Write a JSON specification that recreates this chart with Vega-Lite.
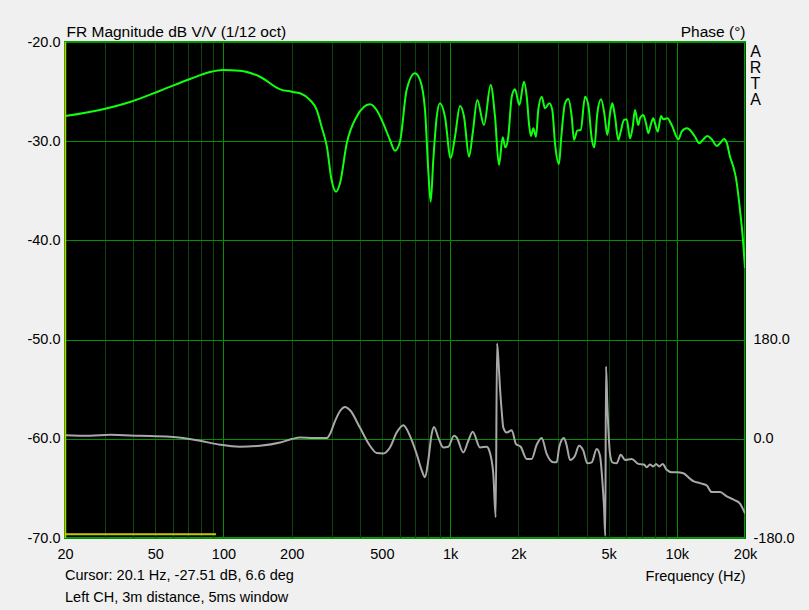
{
  "$schema": "https://vega.github.io/schema/vega-lite/v6.json",
  "width": 680,
  "height": 496,
  "autosize": {"type": "none"},
  "padding": {"left": 65, "top": 42, "right": 64, "bottom": 72},
  "background": "#f0f0f0",
  "config": {
    "font": "Liberation Sans",
    "view": {"fill": "#000000", "stroke": "#00a000", "strokeWidth": 2},
    "axis": {
      "labelFont": "Liberation Sans",
      "titleFont": "Liberation Sans",
      "labelFontSize": 14,
      "titleFontSize": 14,
      "titleFontWeight": "normal",
      "labelColor": "#000000",
      "titleColor": "#000000",
      "domain": false,
      "ticks": false,
      "tickSize": 0,
      "labelFlush": false,
      "labelBound": false,
      "labelOverlap": false
    }
  },
  "datasets": {
    "mag": [
      {"f": 20, "db": -27.46}, {"f": 28.5, "db": -26.85}, {"f": 38.7, "db": -26.05}, {"f": 52.5, "db": -24.91},
      {"f": 71.2, "db": -23.73}, {"f": 87.3, "db": -23.02}, {"f": 99.6, "db": -22.82}, {"f": 118, "db": -22.89},
      {"f": 145, "db": -23.5}, {"f": 178, "db": -24.77}, {"f": 200, "db": -25.01}, {"f": 218, "db": -25.17},
      {"f": 241, "db": -25.85}, {"f": 258, "db": -26.85}, {"f": 271, "db": -28.54}, {"f": 286, "db": -30.55},
      {"f": 300, "db": -33.91}, {"f": 314, "db": -35.09}, {"f": 327, "db": -34.21}, {"f": 350, "db": -30.21},
      {"f": 387, "db": -27.53}, {"f": 443, "db": -26.28}, {"f": 474, "db": -26.85}, {"f": 507, "db": -28.2},
      {"f": 543, "db": -29.88}, {"f": 571, "db": -30.96}, {"f": 601, "db": -30.05}, {"f": 643, "db": -24.84},
      {"f": 700, "db": -23.16}, {"f": 737, "db": -23.83}, {"f": 775, "db": -26.85}, {"f": 801, "db": -32.9},
      {"f": 821, "db": -36.1}, {"f": 843, "db": -31.9}, {"f": 873, "db": -27.53}, {"f": 902, "db": -26.18},
      {"f": 949, "db": -27.53}, {"f": 1006, "db": -31.72}, {"f": 1051, "db": -29.55}, {"f": 1106, "db": -26.45},
      {"f": 1152, "db": -27.53}, {"f": 1212, "db": -31.56}, {"f": 1258, "db": -29.2}, {"f": 1318, "db": -25.85},
      {"f": 1411, "db": -28.37}, {"f": 1510, "db": -24.33}, {"f": 1578, "db": -27.53}, {"f": 1643, "db": -32.4},
      {"f": 1706, "db": -29.61}, {"f": 1752, "db": -30.62}, {"f": 1806, "db": -29.55}, {"f": 1870, "db": -25.51},
      {"f": 1933, "db": -24.77}, {"f": 2020, "db": -26.35}, {"f": 2118, "db": -24.0}, {"f": 2178, "db": -25.51},
      {"f": 2236, "db": -28.54}, {"f": 2275, "db": -29.48}, {"f": 2328, "db": -28.7}, {"f": 2393, "db": -29.55},
      {"f": 2449, "db": -26.85}, {"f": 2536, "db": -25.51}, {"f": 2622, "db": -26.68}, {"f": 2739, "db": -26.18},
      {"f": 2824, "db": -26.85}, {"f": 2903, "db": -30.21}, {"f": 3024, "db": -32.3}, {"f": 3086, "db": -29.88},
      {"f": 3214, "db": -26.18}, {"f": 3323, "db": -25.75}, {"f": 3440, "db": -27.53}, {"f": 3520, "db": -29.88},
      {"f": 3640, "db": -28.94}, {"f": 3769, "db": -28.87}, {"f": 3938, "db": -25.51}, {"f": 4071, "db": -26.35},
      {"f": 4214, "db": -29.71}, {"f": 4327, "db": -30.62}, {"f": 4462, "db": -27.19}, {"f": 4633, "db": -25.78},
      {"f": 4790, "db": -27.19}, {"f": 4939, "db": -29.38}, {"f": 5076, "db": -27.19}, {"f": 5196, "db": -26.18},
      {"f": 5340, "db": -27.53}, {"f": 5522, "db": -29.88}, {"f": 5658, "db": -29.04}, {"f": 5850, "db": -27.86},
      {"f": 6012, "db": -27.79}, {"f": 6218, "db": -29.71}, {"f": 6391, "db": -28.54}, {"f": 6542, "db": -26.85},
      {"f": 6764, "db": -28.37}, {"f": 6882, "db": -27.69}, {"f": 7118, "db": -27.36}, {"f": 7316, "db": -28.2},
      {"f": 7490, "db": -29.2}, {"f": 7674, "db": -28.37}, {"f": 7878, "db": -27.69}, {"f": 8016, "db": -28.2},
      {"f": 8239, "db": -29.04}, {"f": 8520, "db": -27.46}, {"f": 8722, "db": -27.79}, {"f": 9084, "db": -27.69},
      {"f": 9498, "db": -28.37}, {"f": 10157, "db": -29.81}, {"f": 10513, "db": -29.04}, {"f": 11062, "db": -28.7},
      {"f": 11358, "db": -28.8}, {"f": 12036, "db": -29.55}, {"f": 12574, "db": -30.21}, {"f": 13016, "db": -29.88},
      {"f": 13638, "db": -29.48}, {"f": 14262, "db": -29.81}, {"f": 15004, "db": -30.48}, {"f": 15516, "db": -30.21},
      {"f": 16158, "db": -29.78}, {"f": 16610, "db": -30.15}, {"f": 17176, "db": -31.56}, {"f": 17762, "db": -32.57},
      {"f": 18256, "db": -33.74}, {"f": 19010, "db": -36.94}, {"f": 19594, "db": -39.96}, {"f": 20000, "db": -42.78}
    ],
    "phase": [
      {"f": 20, "deg": 6.6}, {"f": 25.8, "deg": 5.4}, {"f": 31.6, "deg": 7.2}, {"f": 42.8, "deg": 5.4},
      {"f": 58.1, "deg": 3.6}, {"f": 78.8, "deg": -3.6}, {"f": 96.6, "deg": -10.8}, {"f": 118, "deg": -14.4},
      {"f": 145, "deg": -12.6}, {"f": 178, "deg": -6.7}, {"f": 200, "deg": -0.5}, {"f": 218, "deg": 2.3},
      {"f": 249, "deg": 1.3}, {"f": 286, "deg": 1.3}, {"f": 295, "deg": 8.5}, {"f": 311, "deg": 32.4},
      {"f": 327, "deg": 50.4}, {"f": 344, "deg": 57.6}, {"f": 362, "deg": 51.7}, {"f": 400, "deg": 20.3},
      {"f": 443, "deg": -12.6}, {"f": 474, "deg": -25.7}, {"f": 507, "deg": -26.5}, {"f": 543, "deg": -15.7},
      {"f": 581, "deg": 11.3}, {"f": 622, "deg": 24.7}, {"f": 665, "deg": 5.4}, {"f": 712, "deg": -27.5},
      {"f": 750, "deg": -57.6}, {"f": 775, "deg": -69.7}, {"f": 801, "deg": -39.6}, {"f": 829, "deg": 8.5},
      {"f": 849, "deg": 21.6}, {"f": 887, "deg": 2.3}, {"f": 933, "deg": -15.7}, {"f": 982, "deg": -14.4},
      {"f": 1040, "deg": 5.4}, {"f": 1069, "deg": 2.3}, {"f": 1143, "deg": -24.7}, {"f": 1203, "deg": -3.6},
      {"f": 1258, "deg": 12.6}, {"f": 1355, "deg": -15.7}, {"f": 1450, "deg": -14.4}, {"f": 1489, "deg": -21.6},
      {"f": 1551, "deg": -63.5}, {"f": 1589, "deg": -142.2}, {"f": 1611, "deg": 172.8}, {"f": 1635, "deg": 140.4},
      {"f": 1660, "deg": 92.3}, {"f": 1689, "deg": 50.4}, {"f": 1717, "deg": 20.3}, {"f": 1777, "deg": 11.3},
      {"f": 1870, "deg": 15.7}, {"f": 1953, "deg": -9.5}, {"f": 2048, "deg": -14.4}, {"f": 2178, "deg": -36.5},
      {"f": 2290, "deg": -36.5}, {"f": 2410, "deg": -10.8}, {"f": 2536, "deg": 1.3}, {"f": 2668, "deg": -27.5},
      {"f": 2853, "deg": -42.7}, {"f": 2953, "deg": -42.7}, {"f": 3032, "deg": -14.4}, {"f": 3180, "deg": 1.3},
      {"f": 3270, "deg": -12.6}, {"f": 3381, "deg": -38.3}, {"f": 3557, "deg": -30.6}, {"f": 3704, "deg": -12.6},
      {"f": 3870, "deg": -21.6}, {"f": 4030, "deg": -44.5}, {"f": 4214, "deg": -42.7}, {"f": 4434, "deg": -18.5},
      {"f": 4586, "deg": -30.6}, {"f": 4694, "deg": -75.6}, {"f": 4776, "deg": -123.7}, {"f": 4839, "deg": -176.4},
      {"f": 4873, "deg": 131.4}, {"f": 4939, "deg": 62.5}, {"f": 5076, "deg": -27.5}, {"f": 5196, "deg": -42.7},
      {"f": 5432, "deg": -44.5}, {"f": 5658, "deg": -28.8}, {"f": 5910, "deg": -38.3}, {"f": 6326, "deg": -36.5},
      {"f": 6764, "deg": -45.5}, {"f": 7170, "deg": -46.8}, {"f": 7370, "deg": -51.7}, {"f": 7618, "deg": -46.8},
      {"f": 7878, "deg": -50.4}, {"f": 8098, "deg": -45.5}, {"f": 8376, "deg": -50.4}, {"f": 8670, "deg": -45.5},
      {"f": 9026, "deg": -56.3}, {"f": 9498, "deg": -60.7}, {"f": 9994, "deg": -60.7}, {"f": 10688, "deg": -62.5},
      {"f": 11440, "deg": -72.5}, {"f": 11828, "deg": -76.9}, {"f": 12658, "deg": -80.5}, {"f": 13552, "deg": -84.6},
      {"f": 14262, "deg": -96.7}, {"f": 15516, "deg": -96.7}, {"f": 16610, "deg": -104.4}, {"f": 18066, "deg": -111.6},
      {"f": 19010, "deg": -117.5}, {"f": 20000, "deg": -135.5}
    ]
  },
  "layer": [
    {
      "data": {"name": "mag"},
      "mark": {"type": "line", "color": "#10ff10", "strokeWidth": 2, "interpolate": "monotone", "clip": true},
      "encoding": {
        "x": {
          "field": "f", "type": "quantitative",
          "scale": {"type": "log", "domain": [20, 20000], "nice": false},
          "axis": {
            "orient": "bottom",
            "values": [20, 30, 40, 50, 60, 70, 80, 90, 100, 200, 300, 400, 500, 600, 700, 800, 900, 1000, 2000, 3000, 4000, 5000, 6000, 7000, 8000, 9000, 10000, 20000],
            "labelExpr": "(datum.value==20||datum.value==50||datum.value==100||datum.value==200||datum.value==500) ? ''+datum.value : ((datum.value==1000||datum.value==2000||datum.value==5000||datum.value==10000||datum.value==20000) ? (datum.value/1000)+'k' : '')",
            "labelPadding": 9,
            "labelFontSize": 14.5,
            "grid": true,
            "gridWidth": 1,
            "gridColor": {"condition": {"test": "datum.value==100||datum.value==1000||datum.value==10000", "value": "#009000"}, "value": "#0c420c"},
            "title": "Frequency (Hz)",
            "titleFontSize": 14.5,
            "titleAnchor": "end",
            "titleAlign": "right",
            "titleBaseline": "alphabetic",
            "titleX": 680,
            "titleY": 42
          }
        },
        "y": {
          "field": "db", "type": "quantitative",
          "scale": {"domain": [-70, -20], "nice": false, "zero": false},
          "axis": {
            "orient": "left",
            "values": [-70, -60, -50, -40, -30, -20],
            "labelExpr": "replace(format(datum.value, '.1f'), '\u2212', '-')",
            "labelPadding": 5,
            "labelFontSize": 14.5,
            "grid": true,
            "gridColor": "#009000",
            "gridWidth": 1,
            "title": "FR Magnitude dB V/V (1/12 oct)",
            "titleFontSize": 15.5,
            "titleAngle": 0,
            "titleAlign": "left",
            "titleBaseline": "alphabetic",
            "titleX": 1,
            "titleY": -6
          }
        }
      }
    },
    {
      "data": {"name": "phase"},
      "mark": {"type": "line", "color": "#a8a8a8", "strokeWidth": 2, "interpolate": "monotone", "clip": true},
      "encoding": {
        "x": {"field": "f", "type": "quantitative"},
        "y": {
          "field": "deg", "type": "quantitative",
          "scale": {"domain": [-180, 720], "nice": false, "zero": false},
          "axis": {
            "orient": "right",
            "values": [-180, 0, 180],
            "labelExpr": "replace(format(datum.value, '.1f'), '\u2212', '-')",
            "labelAlign": "left",
            "labelPadding": 8,
            "labelFontSize": 14.5,
            "grid": false,
            "title": "Phase (°)",
            "titleFontSize": 15.5,
            "titleAngle": 0,
            "titleAlign": "right",
            "titleBaseline": "alphabetic",
            "titleX": 0,
            "titleY": -6
          }
        }
      }
    },
    {
      "data": {"values": [{}]},
      "mark": {"type": "rule", "color": "#c8c800", "strokeWidth": 1.5},
      "encoding": {
        "x": {"datum": 20.1, "type": "quantitative"}
      }
    },
    {
      "data": {"values": [{}]},
      "mark": {"type": "rule", "color": "#c8c800", "strokeWidth": 2},
      "encoding": {
        "x": {"datum": 20, "type": "quantitative"},
        "x2": {"datum": 92.8},
        "y": {"datum": -69.63, "type": "quantitative", "scale": {"domain": [-70, -20], "nice": false, "zero": false}, "axis": null}
      }
    },
    {
      "data": {"values": [{}]},
      "mark": {"type": "text", "text": ["Cursor: 20.1 Hz, -27.51 dB, 6.6 deg", "Left CH, 3m distance, 5ms window"], "align": "left", "baseline": "alphabetic", "lineHeight": 22, "fontSize": 14.5, "font": "Liberation Sans", "color": "#000000", "clip": false},
      "encoding": {
        "x": {"datum": 20, "type": "quantitative"},
        "y": {"datum": -74.23, "type": "quantitative", "scale": {"domain": [-70, -20], "nice": false, "zero": false}, "axis": null}
      }
    },
    {
      "data": {"values": [{}]},
      "mark": {"type": "text", "text": ["A", "R", "T", "A"], "align": "center", "baseline": "alphabetic", "lineHeight": 16, "fontSize": 16, "font": "Liberation Sans", "color": "#000000", "clip": false},
      "encoding": {
        "x": {"datum": 22250, "type": "quantitative"},
        "y": {"datum": -21.51, "type": "quantitative", "scale": {"domain": [-70, -20], "nice": false, "zero": false}, "axis": null}
      }
    }
  ],
  "resolve": {"scale": {"y": "independent"}}
}
